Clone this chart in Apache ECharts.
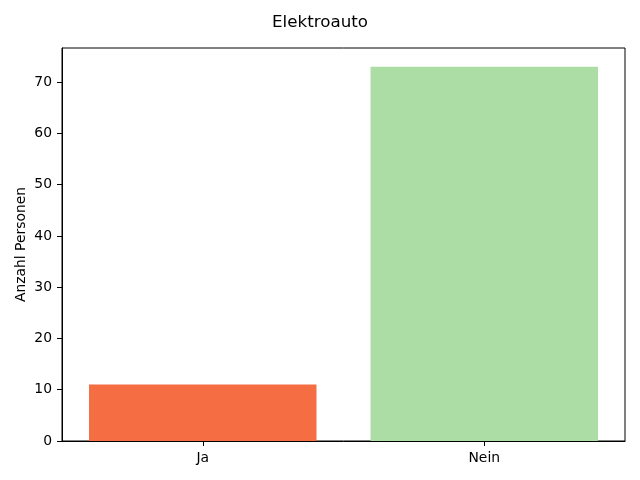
<!DOCTYPE html>
<html><head><meta charset="utf-8">
<script src="https://cdn.jsdelivr.net/npm/echarts@6/dist/echarts.min.js"></script>
<style>html,body{margin:0;padding:0;background:#fff}#c{width:640px;height:480px}</style>
</head><body><div id="c"></div>
<script>
const categories = ['Ja', 'Nein'];
const values = [11, 73];
const barColors = ['#f46d43', '#abdda4'];
const yTicks = [0, 10, 20, 30, 40, 50, 60, 70];
const title = 'Elektroauto';
const yLabel = 'Anzahl Personen';

const font = 'DejaVu Sans';
const chart = echarts.init(document.getElementById('c'), null, {renderer: 'canvas'});
chart.setOption({
  animation: false,
  backgroundColor: '#fff',
  title: {text: title, left: 'center', top: 9, textStyle: {fontFamily: font, fontSize: 16.7, fontWeight: 'normal', color: '#000'}},
  grid: {left: 62, right: 15, top: 48, bottom: 39, show: true, borderColor: '#000', borderWidth: 1, containLabel: false},
  xAxis: {
    type: 'category', data: categories, boundaryGap: true,
    axisLine: {show: true, lineStyle: {color: '#000', width: 1}},
    axisTick: {show: true, alignWithLabel: true, length: 5, lineStyle: {color: '#000'}},
    axisLabel: {fontFamily: font, fontSize: 13.9, color: '#000', margin: 10},
    splitLine: {show: false}
  },
  yAxis: {
    type: 'value', min: 0, max: 76.65, interval: 10,
    name: yLabel, nameLocation: 'middle', nameGap: 34, nameMoveOverlap: false,
    nameTextStyle: {fontFamily: font, fontSize: 13.9, color: '#000'},
    axisLine: {show: true, lineStyle: {color: '#000', width: 1}},
    axisTick: {show: true, length: 5, lineStyle: {color: '#000'}, customValues: yTicks},
    axisLabel: {fontFamily: font, fontSize: 13.9, color: '#000', margin: 10, customValues: yTicks},
    splitLine: {show: false}
  },
  series: [{
    type: 'bar', barWidth: '80.8%',
    data: values.map((v, i) => ({value: v, itemStyle: {color: barColors[i]}}))
  }]
});
</script></body></html>
